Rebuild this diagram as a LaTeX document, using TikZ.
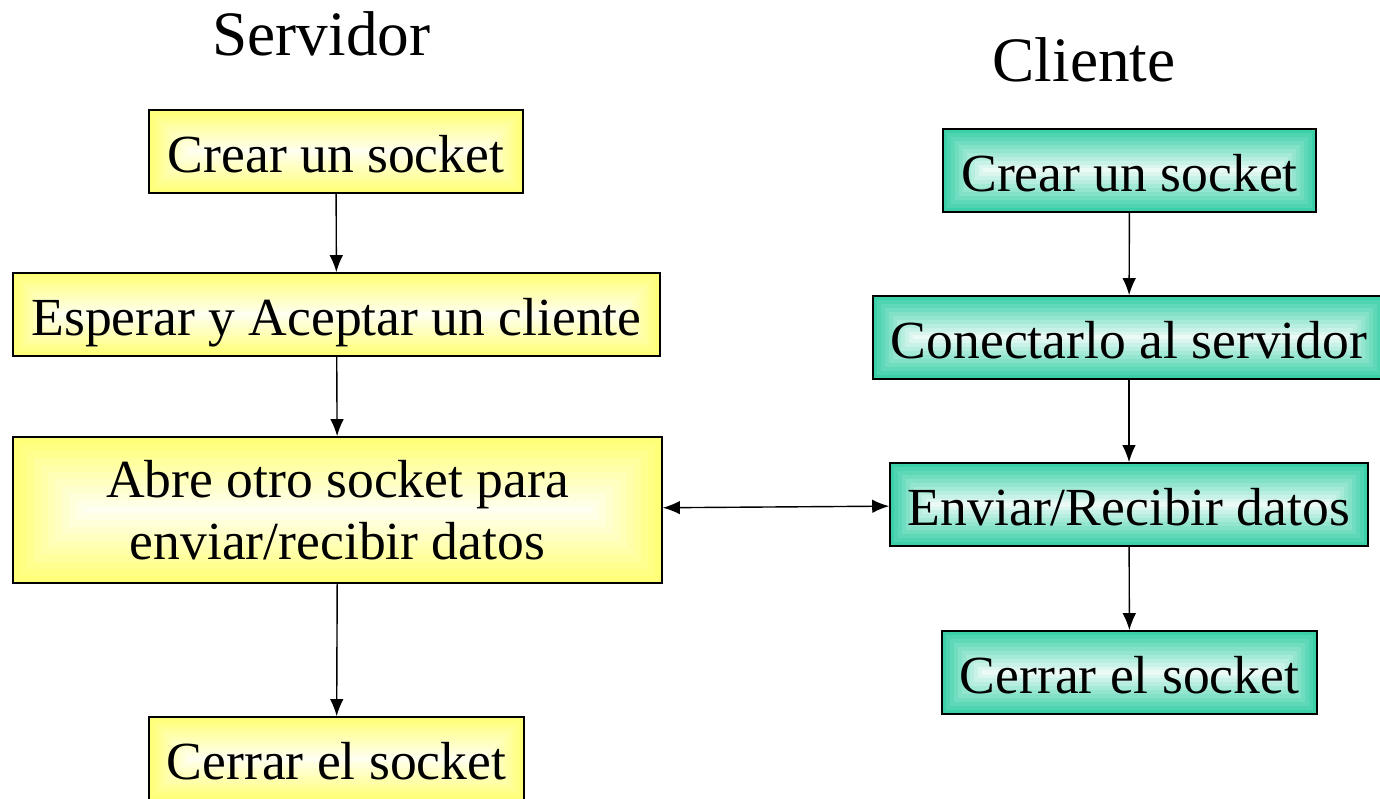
\documentclass[tikz,border=0pt]{standalone}
\usepackage{fontspec}
\setmainfont{Liberation Serif}
\usepackage{tikz}
\usetikzlibrary{arrows.meta, positioning}

\definecolor{srvyellow}{RGB}{255,255,120}
\definecolor{cliteal}{RGB}{60,208,168}
\newcommand\boxfont{\fontsize{30.5}{35.5}\selectfont}
\newcommand\titlefont{\fontsize{36}{43}\selectfont}

\tikzset{
  bands/.style 2 args={path picture={
    \foreach \k [evaluate=\k as \p using int(100-9*\k)] in {0,...,10}
      \fill[#1!\p!white] ([shift={(\k*#2,\k*#2)}]path picture bounding box.south west)
        rectangle ([shift={(-\k*#2,-\k*#2)}]path picture bounding box.north east);
  }},
  box/.style={draw, line width=0.9pt, inner sep=0pt, align=center, font=\boxfont,
    minimum height=1.66cm, text height=25pt, text depth=0.6pt},
  srvbox/.style={box, fill=srvyellow, bands={srvyellow}{0.079}},
  clibox/.style={box, fill=cliteal, bands={cliteal}{0.079}},
  tip/.tip={Latex[length=0.34cm,width=0.27cm]},
  flow/.style={-tip, line width=0.8pt},
}

\begin{document}
\begin{tikzpicture}[]
\useasboundingbox (0,0) rectangle (27.6,15.96);

% titles
\node[font=\titlefont, anchor=base] (tsrv) at (6.43, 14.84) {Servidor};
\node[font=\titlefont, anchor=base] (tcli) at (21.68, 14.32) {Cliente};

% server
\node[srvbox, minimum width=7.48cm] (srv1) at (6.72, 12.93) {Crear un socket};
\node[srvbox, minimum width=12.94cm] (srv2) at (6.73, 9.67) {Esperar y Aceptar un cliente};
\node[srvbox, minimum width=12.98cm, minimum height=2.92cm, text height={}, text depth={},
  bands={srvyellow}{0.139}] (srv3) at (6.75, 5.76)
  {Abre otro socket para\\enviar/recibir datos};
\node[srvbox, minimum width=7.5cm] (srv4) at (6.73, 0.79) {Cerrar el socket};

% client
\node[clibox, minimum width=7.46cm] (cli1) at (22.59, 12.55) {Crear un socket};
\node[clibox, minimum width=10.24cm] (cli2) at (22.58, 9.21) {Conectarlo al servidor};
\node[clibox, minimum width=9.56cm] (cli3) at (22.58, 5.87) {Enviar/Recibir datos};
\node[clibox, minimum width=7.5cm] (cli4) at (22.59, 2.51) {Cerrar el socket};

% arrows
\draw[flow] (srv1) -- (srv2);
\draw[flow] (srv2) -- (srv3);
\draw[flow] (srv3) -- (srv4);

\draw[flow] (cli1) -- (cli2);
\draw[flow] (cli2) -- (cli3);
\draw[flow] (cli3) -- (cli4);

\draw[flow, tip-tip] (srv3) -- (cli3);

\end{tikzpicture}
\end{document}
